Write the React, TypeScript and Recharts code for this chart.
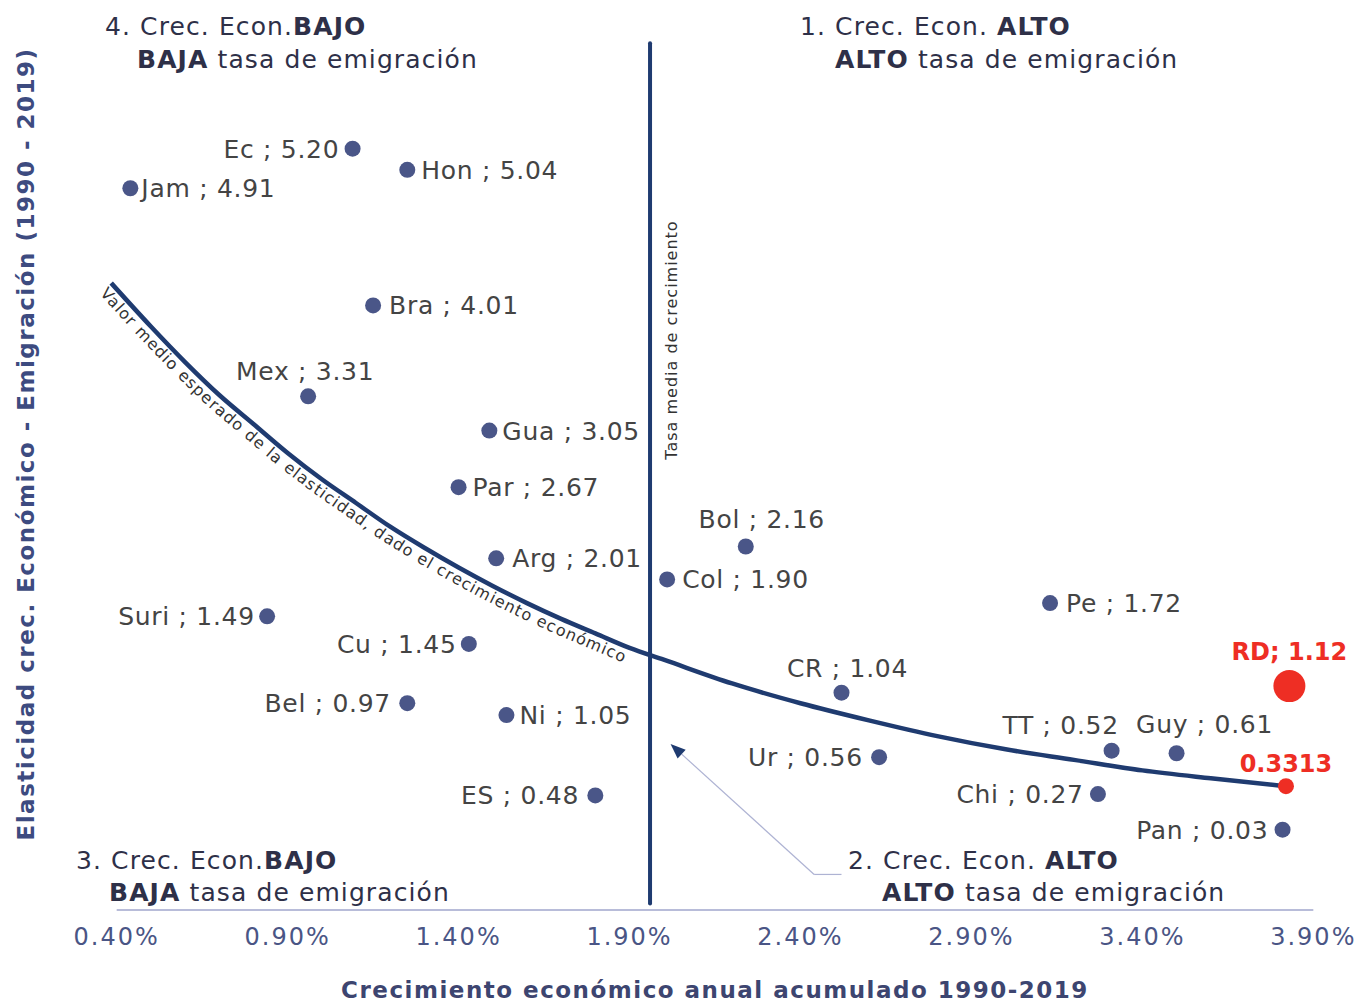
import React from "react";
import {
  ComposedChart,
  Scatter,
  Line,
  XAxis,
  YAxis,
  ReferenceLine,
  Customized,
} from "recharts";

// países: crecimiento anual acumulado (%) y elasticidad
const countries = ["Ec", "Hon", "Jam", "Bra", "Mex", "Gua", "Par", "Arg", "Bol", "Col", "Pe", "Suri", "Cu", "CR", "Bel", "Ni", "TT", "Guy", "Ur", "Chi", "ES", "Pan"];
const growth = [1.09, 1.25, 0.44, 1.15, 0.96, 1.49, 1.4, 1.51, 2.24, 2.01, 3.13, 0.84, 1.43, 2.52, 1.25, 1.54, 3.31, 3.5, 2.63, 3.27, 1.8, 3.81];
const elasticity = [5.2, 5.04, 4.9, 4.01, 3.32, 3.06, 2.63, 2.09, 2.18, 1.93, 1.75, 1.65, 1.44, 1.07, 0.99, 0.9, 0.63, 0.61, 0.58, 0.3, 0.29, 0.03];
const pointLabels = ["Ec ; 5.20", "Hon ; 5.04", "Jam ; 4.91", "Bra ; 4.01", "Mex ; 3.31", "Gua ; 3.05", "Par ; 2.67", "Arg ; 2.01", "Bol ; 2.16", "Col ; 1.90", "Pe ; 1.72", "Suri ; 1.49", "Cu ; 1.45", "CR ; 1.04", "Bel ; 0.97", "Ni ; 1.05", "TT ; 0.52", "Guy ; 0.61", "Ur ; 0.56", "Chi ; 0.27", "ES ; 0.48", "Pan ; 0.03"];

// República Dominicana y su valor esperado sobre la curva
const rdGrowth = [3.83];
const rdElasticity = [1.12];
const rdLabel = "RD; 1.12";
const expectedGrowth = [3.82];
const expectedElasticity = [0.36];
const expectedLabel = "0.3313";

// curva del valor medio esperado
const curveGrowth = [0.384, 0.5, 0.6, 0.7, 0.8, 0.9, 1.0, 1.1, 1.2, 1.3, 1.4, 1.5, 1.6, 1.7, 1.8, 1.9, 2.0, 2.2, 2.4, 2.6, 2.8, 3.0, 3.2, 3.4, 3.6, 3.82];
const curveElasticity = [4.18, 3.85, 3.58, 3.33, 3.11, 2.89, 2.69, 2.51, 2.33, 2.17, 2.02, 1.88, 1.75, 1.63, 1.52, 1.41, 1.32, 1.14, 0.99, 0.86, 0.74, 0.64, 0.56, 0.48, 0.42, 0.36];

const meanGrowth = 1.96;
const xTicks = [0.4, 0.9, 1.4, 1.9, 2.4, 2.9, 3.4, 3.9];

// flecha que señala el cuadrante 2
const arrowGrowth = [2.52, 2.44, 2.02];
const arrowElasticity = [-0.31, -0.31, 0.68];

// dónde va la etiqueta de cada país
const labelPlacement = [
  { side: "left", dx: 14, dy: 0 },
  { side: "right", dx: 14, dy: 0 },
  { side: "right", dx: 11, dy: 0 },
  { side: "right", dx: 16, dy: 0 },
  { side: "top", dx: -3, dy: 16 },
  { side: "right", dx: 13, dy: 0 },
  { side: "right", dx: 14, dy: 0 },
  { side: "right", dx: 16, dy: 0 },
  { side: "top", dx: 16, dy: 18 },
  { side: "right", dx: 15, dy: 0 },
  { side: "right", dx: 16, dy: 0 },
  { side: "left", dx: 13, dy: 0 },
  { side: "left", dx: 13, dy: 0 },
  { side: "top", dx: 6, dy: 16 },
  { side: "left", dx: 17, dy: 0 },
  { side: "right", dx: 13, dy: 0 },
  { side: "top", dx: -51, dy: 17 },
  { side: "top", dx: 28, dy: 20 },
  { side: "left", dx: 17, dy: 0 },
  { side: "left", dx: 15, dy: 0 },
  { side: "left", dx: 17, dy: 0 },
  { side: "left", dx: 15, dy: 0 },
];

const FONT = "'DejaVu Sans', sans-serif";
const NAVY = "#1f3b70";
const DOT = "#4a5688";
const RED = "#ee2e24";
const LABEL = "#444444";
const TITLE = "#2e3048";
const LABEL_SIZE = 25;
const LABEL_SPACING = 0.7;

const countryRows = countries.map((c, i) => ({
  name: c,
  x: growth[i],
  y: elasticity[i],
  label: pointLabels[i],
  place: labelPlacement[i],
}));
const rdRows = rdGrowth.map((x, i) => ({ x, y: rdElasticity[i], label: rdLabel }));
const expectedRows = expectedGrowth.map((x, i) => ({ x, y: expectedElasticity[i], label: expectedLabel }));
const curveRows = curveGrowth.map((x, i) => ({ x, y: curveElasticity[i] }));

const CountryDot = (props: any) => {
  const { cx, cy, payload } = props;
  const { side, dx, dy } = payload.place;
  let text;
  if (side === "top") {
    text = (
      <text
        x={cx + dx}
        y={cy - dy}
        textAnchor="middle"
        fontSize={LABEL_SIZE}
        letterSpacing={LABEL_SPACING}
        fontFamily={FONT}
        fill={LABEL}
      >
        {payload.label}
      </text>
    );
  } else {
    const left = side === "left";
    text = (
      <text
        x={left ? cx - dx + LABEL_SPACING : cx + dx}
        y={cy + LABEL_SIZE * 0.36}
        textAnchor={left ? "end" : "start"}
        fontSize={LABEL_SIZE}
        letterSpacing={LABEL_SPACING}
        fontFamily={FONT}
        fill={LABEL}
      >
        {payload.label}
      </text>
    );
  }
  return (
    <g>
      <circle cx={cx} cy={cy} r={8} fill={DOT} />
      {text}
    </g>
  );
};

const redDot = (r: number, lift: number) => (props: any) => {
  const { cx, cy, payload } = props;
  return (
    <g>
      <circle cx={cx} cy={cy} r={r} fill={RED} />
      <text x={cx} y={cy - lift} textAnchor="middle" fontSize={24} fontWeight={700} fontFamily={FONT} fill={RED}>
        {payload.label}
      </text>
    </g>
  );
};

// el texto curvo se dibuja cuando Recharts entrega el último punto de la curva
let collected: { x: number; y: number }[] = [];
const CurveText = (props: any) => {
  const { cx, cy, index, points } = props;
  if (index === 0) collected = [];
  collected.push({ x: cx, y: cy });
  if (index !== curveRows.length - 1) return <g key={`c-${index}`} />;
  const pts: { x: number; y: number }[] = points && points.length ? points : collected;
  const d = pts.map((p, i) => `${i === 0 ? "M" : "L"}${p.x},${p.y}`).join(" ");
  return (
    <g key="curve-text">
      <defs>
        <path id="curvePath" d={d} />
      </defs>
      <text fontSize={16} letterSpacing={1} fontFamily={FONT} fill="#333" dy={16}>
        <textPath href="#curvePath" startOffset={0}>
          Valor medio esperado de la elasticidad, dado el crecimiento económico
        </textPath>
      </text>
    </g>
  );
};

const ArrowShape = (props: any) => {
  const { x1, y1, x2, y2 } = props;
  return <line x1={x1} y1={y1} x2={x2} y2={y2} stroke="#aeb3d3" strokeWidth={1.2} />;
};

const ArrowHeadShape = (props: any) => {
  const { x1, y1, x2, y2 } = props;
  const ang = Math.atan2(y2 - y1, x2 - x1);
  const len = 15;
  const half = 6;
  const bx = x2 - len * Math.cos(ang);
  const by = y2 - len * Math.sin(ang);
  const px = -Math.sin(ang) * half;
  const py = Math.cos(ang) * half;
  return (
    <g>
      <line x1={x1} y1={y1} x2={bx} y2={by} stroke="#aeb3d3" strokeWidth={1.2} />
      <polygon points={`${x2},${y2} ${bx + px},${by + py} ${bx - px},${by - py}`} fill={NAVY} />
    </g>
  );
};

const Title = ({ x, y, parts }: { x: number; y: number; parts: [string, boolean][] }) => (
  <text x={x} y={y} fontSize={25} letterSpacing={1.1} fontFamily={FONT} fill={TITLE}>
    {parts.map(([t, b], i) => (
      <tspan key={i} fontWeight={b ? 700 : 400}>
        {t}
      </tspan>
    ))}
  </text>
);

const Annotations = () => (
  <g>
    <Title x={105} y={35} parts={[["4. Crec. Econ.", false], ["BAJO", true]]} />
    <Title x={137} y={68} parts={[["BAJA", true], [" tasa de emigración", false]]} />
    <Title x={800} y={35} parts={[["1. Crec. Econ. ", false], ["ALTO", true]]} />
    <Title x={835} y={68} parts={[["ALTO", true], [" tasa de emigración", false]]} />
    <Title x={76} y={869} parts={[["3. Crec. Econ.", false], ["BAJO", true]]} />
    <Title x={109} y={901} parts={[["BAJA", true], [" tasa de emigración", false]]} />
    <Title x={848} y={869} parts={[["2. Crec. Econ. ", false], ["ALTO", true]]} />
    <Title x={882} y={901} parts={[["ALTO", true], [" tasa de emigración", false]]} />
    <text
      x={671}
      y={340}
      transform="rotate(-90, 671, 340)"
      textAnchor="middle"
      dominantBaseline="central"
      fontSize={16}
      letterSpacing={1}
      fontFamily={FONT}
      fill="#333"
    >
      Tasa media de crecimiento
    </text>
    <text
      x={26}
      y={444}
      transform="rotate(-90, 26, 444)"
      textAnchor="middle"
      dominantBaseline="central"
      fontSize={23}
      letterSpacing={1.5}
      fontWeight={700}
      fontFamily={FONT}
      fill="#3d4b80"
    >
      Elasticidad crec. Económico - Emigración (1990 - 2019)
    </text>
    <text
      x={715}
      y={998}
      textAnchor="middle"
      fontSize={23}
      letterSpacing={1.5}
      fontWeight={700}
      fontFamily={FONT}
      fill="#3d4570"
    >
      Crecimiento económico anual acumulado 1990-2019
    </text>
  </g>
);

export default function App() {
  return (
    <div style={{ position: "absolute", left: 0, top: 0, background: "#fff" }}>
      <ComposedChart width={1360} height={1002} margin={{ top: 17, right: 33, bottom: 0, left: 103 }}>
        <XAxis
          type="number"
          dataKey="x"
          domain={[0.36, 3.94]}
          ticks={xTicks}
          tickFormatter={(v: number) => `${v.toFixed(2)}%`}
          axisLine={false}
          tickLine={false}
          tickMargin={12}
          height={92}
          tick={{ fontSize: 24, fill: "#4a5585", fontFamily: FONT, letterSpacing: 2 }}
        />
        <YAxis type="number" dataKey="y" domain={[-0.58, 6.2]} hide />
        <ReferenceLine
          segment={[{ x: 0.4, y: -0.58 }, { x: 3.9, y: -0.58 }]}
          stroke="#b8bcd9"
          strokeWidth={2}
          ifOverflow="visible"
        />
        <ReferenceLine
          segment={[{ x: meanGrowth, y: 6.0 }, { x: meanGrowth, y: -0.53 }]}
          stroke={NAVY}
          strokeWidth={4}
          strokeLinecap="round"
          ifOverflow="visible"
        />
        <ReferenceLine
          segment={[
            { x: arrowGrowth[0], y: arrowElasticity[0] },
            { x: arrowGrowth[1], y: arrowElasticity[1] },
          ]}
          shape={ArrowShape}
          ifOverflow="visible"
        />
        <ReferenceLine
          segment={[
            { x: arrowGrowth[1], y: arrowElasticity[1] },
            { x: arrowGrowth[2], y: arrowElasticity[2] },
          ]}
          shape={ArrowHeadShape}
          ifOverflow="visible"
        />
        <Line
          data={curveRows}
          dataKey="y"
          type="monotone"
          stroke={NAVY}
          strokeWidth={4.5}
          dot={CurveText}
          activeDot={false}
          isAnimationActive={false}
        />
        <Scatter data={countryRows} shape={CountryDot} isAnimationActive={false} />
        <Scatter data={rdRows} shape={redDot(16, 26)} isAnimationActive={false} />
        <Scatter data={expectedRows} shape={redDot(8, 14)} isAnimationActive={false} />
        <Customized component={Annotations} />
      </ComposedChart>
    </div>
  );
}
